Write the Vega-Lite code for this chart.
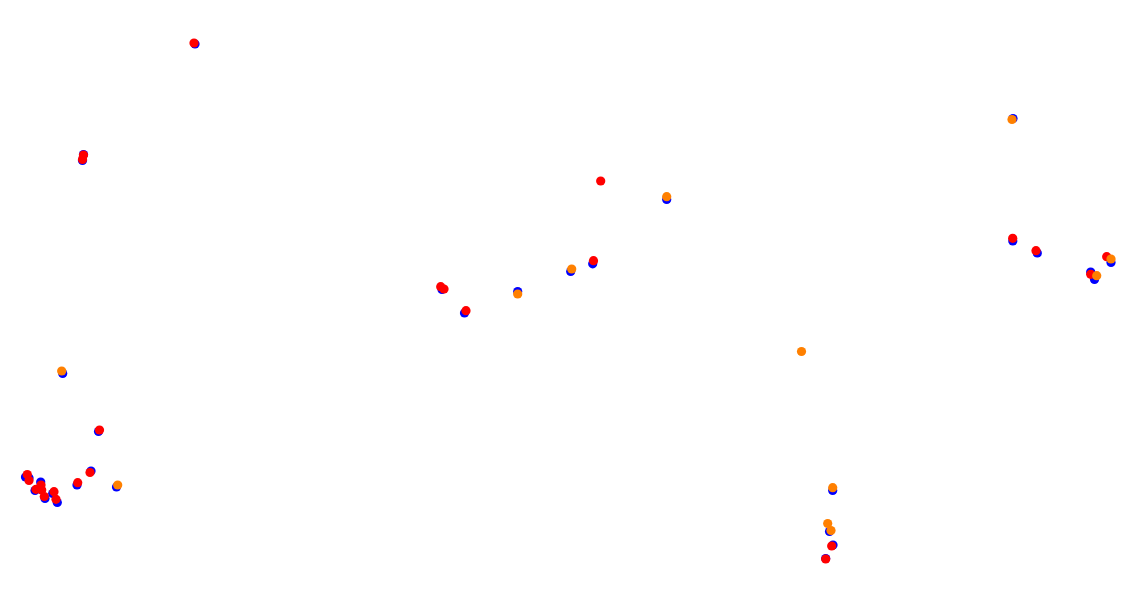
{
  "$schema": "https://vega.github.io/schema/vega-lite/v6.json",
  "width": 1145,
  "height": 612,
  "autosize": {"type": "fit", "contains": "padding"},
  "padding": 0,
  "background": "white",
  "config": {"view": {"stroke": null}},
  "data": {"values": [
    {"x": 195, "y": 44, "s": "a"},
    {"x": 83.5, "y": 154.5, "s": "a"},
    {"x": 82.5, "y": 160.5, "s": "a"},
    {"x": 62.7, "y": 373.5, "s": "a"},
    {"x": 98.5, "y": 431.5, "s": "a"},
    {"x": 116.5, "y": 487, "s": "a"},
    {"x": 91, "y": 471, "s": "a"},
    {"x": 77, "y": 485, "s": "a"},
    {"x": 25.5, "y": 477, "s": "a"},
    {"x": 29, "y": 478, "s": "a"},
    {"x": 35, "y": 490.5, "s": "a"},
    {"x": 40.7, "y": 482, "s": "a"},
    {"x": 45, "y": 498.5, "s": "a"},
    {"x": 52.7, "y": 493.5, "s": "a"},
    {"x": 57.3, "y": 502.5, "s": "a"},
    {"x": 1012.8, "y": 241, "s": "a"},
    {"x": 1037.3, "y": 253, "s": "a"},
    {"x": 1111, "y": 262.5, "s": "a"},
    {"x": 1094.5, "y": 279.5, "s": "a"},
    {"x": 1090.7, "y": 272, "s": "a"},
    {"x": 832.7, "y": 490.5, "s": "a"},
    {"x": 829.5, "y": 531.5, "s": "a"},
    {"x": 833, "y": 545, "s": "a"},
    {"x": 825.7, "y": 558.5, "s": "a"},
    {"x": 666.7, "y": 199.5, "s": "a"},
    {"x": 592.7, "y": 263.8, "s": "a"},
    {"x": 570.7, "y": 271.5, "s": "a"},
    {"x": 442, "y": 289.5, "s": "a"},
    {"x": 517.7, "y": 291.5, "s": "a"},
    {"x": 464.5, "y": 313, "s": "a"},
    {"x": 1013, "y": 118.5, "s": "a"},

    {"x": 194, "y": 43, "s": "b"},
    {"x": 83.5, "y": 155, "s": "b"},
    {"x": 82.5, "y": 159.5, "s": "b"},
    {"x": 99.5, "y": 430, "s": "b"},
    {"x": 90, "y": 472.5, "s": "b"},
    {"x": 77.7, "y": 482.7, "s": "b"},
    {"x": 27.3, "y": 474.5, "s": "b"},
    {"x": 29, "y": 480.5, "s": "b"},
    {"x": 36, "y": 489.3, "s": "b"},
    {"x": 41, "y": 485, "s": "b"},
    {"x": 41.7, "y": 490, "s": "b"},
    {"x": 44.3, "y": 496.5, "s": "b"},
    {"x": 54, "y": 491.7, "s": "b"},
    {"x": 56, "y": 499.3, "s": "b"},
    {"x": 1012.7, "y": 238.3, "s": "b"},
    {"x": 1036, "y": 250.7, "s": "b"},
    {"x": 1106.7, "y": 256.7, "s": "b"},
    {"x": 1090.7, "y": 274.3, "s": "b"},
    {"x": 831.7, "y": 546, "s": "b"},
    {"x": 825.7, "y": 559, "s": "b"},
    {"x": 600.7, "y": 181, "s": "b"},
    {"x": 593.5, "y": 260.7, "s": "b"},
    {"x": 440.7, "y": 286.7, "s": "b"},
    {"x": 444, "y": 289, "s": "b"},
    {"x": 466, "y": 310.7, "s": "b"},

    {"x": 61.7, "y": 371, "s": "c"},
    {"x": 117.7, "y": 485, "s": "c"},
    {"x": 1111, "y": 259, "s": "c"},
    {"x": 1096.7, "y": 275.7, "s": "c"},
    {"x": 832.7, "y": 487.7, "s": "c"},
    {"x": 827.7, "y": 523.5, "s": "c"},
    {"x": 831, "y": 530.5, "s": "c"},
    {"x": 666.7, "y": 196.7, "s": "c"},
    {"x": 571.7, "y": 269, "s": "c"},
    {"x": 517.7, "y": 294, "s": "c"},
    {"x": 801.5, "y": 351.5, "s": "c"},
    {"x": 1012, "y": 119.5, "s": "c"}
  ]},
  "mark": {"type": "point", "filled": true, "opacity": 1, "shape": "circle", "size": 85},
  "encoding": {
    "x": {"field": "x", "type": "quantitative", "scale": {"domain": [0, 1145], "nice": false, "zero": false}, "axis": null},
    "y": {"field": "y", "type": "quantitative", "scale": {"domain": [0, 612], "nice": false, "zero": false, "reverse": true}, "axis": null},
    "color": {"field": "s", "type": "nominal", "scale": {"domain": ["a", "b", "c"], "range": ["#0000ff", "#ff0000", "#ff8000"]}, "legend": null}
  }
}
